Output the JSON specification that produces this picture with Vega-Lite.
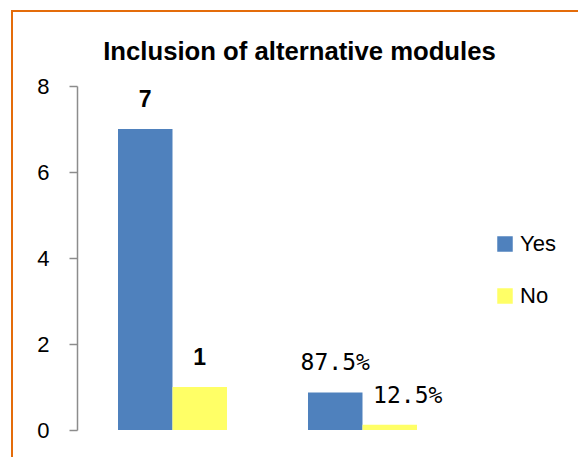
{
  "$schema": "https://vega.github.io/schema/vega-lite/v6.json",
  "width": 575,
  "height": 460,
  "autosize": {"type": "none"},
  "padding": {"left": 12, "top": 11, "right": 0, "bottom": 0},
  "background": "white",
  "title": {
    "text": "Inclusion of alternative modules",
    "font": "Liberation Sans",
    "fontSize": 25.7,
    "fontWeight": "bold",
    "color": "#000000",
    "anchor": "middle",
    "frame": "group",
    "baseline": "alphabetic",
    "offset": -75
  },
  "config": {
    "view": {"stroke": "#E46C0A", "strokeWidth": 2},
    "font": "Liberation Sans"
  },
  "data": {
    "values": [
      {"group": "count", "answer": "Yes", "value": 7, "label": "7"},
      {"group": "count", "answer": "No", "value": 1, "label": "1"},
      {"group": "pct", "answer": "Yes", "value": 0.875, "label": "87.5%"},
      {"group": "pct", "answer": "No", "value": 0.125, "label": "12.5%"}
    ]
  },
  "encoding": {
    "x": {
      "field": "group",
      "type": "nominal",
      "sort": ["count", "pct"],
      "axis": null,
      "scale": {"range": [106, 405], "paddingInner": 0.4263, "paddingOuter": 0}
    },
    "xOffset": {
      "field": "answer",
      "type": "nominal",
      "sort": ["Yes", "No"],
      "scale": {"paddingInner": 0, "paddingOuter": 0}
    },
    "y": {
      "field": "value",
      "type": "quantitative",
      "scale": {"domain": [0, 8], "range": [419, 75], "nice": false},
      "axis": {
        "values": [0, 2, 4, 6, 8],
        "title": null,
        "grid": false,
        "offset": -65,
        "domainColor": "#8c8c8c",
        "domainWidth": 1.5,
        "tickColor": "#8c8c8c",
        "tickWidth": 1.5,
        "tickSize": 8,
        "labelFont": "Liberation Sans",
        "labelFontSize": 22,
        "labelColor": "#000000",
        "labelPadding": 20
      }
    }
  },
  "layer": [
    {
      "mark": {"type": "bar"},
      "encoding": {
        "color": {
          "field": "answer",
          "type": "nominal",
          "sort": ["Yes", "No"],
          "scale": {"domain": ["Yes", "No"], "range": ["#4F81BD", "#FFFF66"]},
          "legend": {
            "title": null,
            "orient": "none",
            "legendX": 482,
            "legendY": 222,
            "symbolType": "square",
            "symbolSize": 240,
            "symbolStrokeWidth": 0,
            "labelFont": "Liberation Sans",
            "labelFontSize": 22,
            "labelColor": "#000000",
            "labelOffset": 4,
            "rowPadding": 30,
            "padding": 0
          }
        }
      }
    },
    {
      "transform": [{"filter": "datum.group == 'count'"}],
      "mark": {
        "type": "text",
        "font": "Liberation Sans",
        "fontWeight": "bold",
        "fontSize": 23,
        "baseline": "alphabetic",
        "dy": -22,
        "color": "#000000"
      },
      "encoding": {"text": {"field": "label"}}
    },
    {
      "transform": [{"filter": "datum.group == 'pct' && datum.answer == 'Yes'"}],
      "mark": {
        "type": "text",
        "font": "DejaVu Sans Mono",
        "fontSize": 23,
        "baseline": "alphabetic",
        "dy": -22,
        "color": "#000000"
      },
      "encoding": {"text": {"field": "label"}}
    },
    {
      "transform": [{"filter": "datum.group == 'pct' && datum.answer == 'No'"}],
      "mark": {
        "type": "text",
        "font": "DejaVu Sans Mono",
        "fontSize": 23,
        "baseline": "alphabetic",
        "dy": -22,
        "dx": 18,
        "color": "#000000"
      },
      "encoding": {"text": {"field": "label"}}
    }
  ]
}
